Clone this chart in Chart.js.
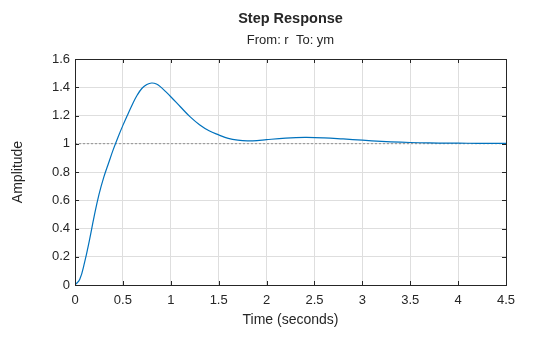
<!DOCTYPE html>
<html>
<head>
<meta charset="utf-8">
<script src="https://cdn.jsdelivr.net/npm/chart.js@4.4.1/dist/chart.umd.min.js"></script>
<style>
  html, body { margin: 0; padding: 0; background: #fff; }
  #wrap { width: 560px; height: 337px; position: relative; }
</style>
</head>
<body>
<div id="wrap"><canvas id="chart"></canvas></div>
<script>
// step response samples (time in s, amplitude)
const times = [0, 0.05, 0.1, 0.15, 0.2, 0.25, 0.3, 0.35, 0.4, 0.45, 0.5, 0.55, 0.6, 0.65, 0.7, 0.75, 0.8, 0.85, 0.9, 0.95, 1.0,
  1.1, 1.2, 1.3, 1.4, 1.5, 1.6, 1.7, 1.8, 1.9, 2.0, 2.2, 2.4, 2.6, 2.8, 3.0, 3.2, 3.4, 3.6, 3.8, 4.0, 4.2, 4.5];
const amplitude = [0, 0.04, 0.16, 0.315, 0.486, 0.64, 0.762, 0.862, 0.96, 1.048, 1.13, 1.206, 1.28, 1.345, 1.393, 1.419, 1.43, 1.423, 1.399, 1.367, 1.333,
  1.262, 1.192, 1.135, 1.092, 1.063, 1.038, 1.025, 1.02, 1.022, 1.029, 1.04, 1.045, 1.042, 1.034, 1.025, 1.017, 1.011, 1.007, 1.005, 1.004, 1.003, 1.002];

const steadyState = 1;
const xTicks = [0, 0.5, 1, 1.5, 2, 2.5, 3, 3.5, 4, 4.5];
const yTicks = [0, 0.2, 0.4, 0.6, 0.8, 1, 1.2, 1.4, 1.6];

const titleText = "Step Response";
const subtitleText = "From: r  To: ym";

const FONT = "'Liberation Sans', Arial, Helvetica, sans-serif";
const INK = "#262626";

// box around the axes + inward tick marks on all four sides, plus the titles
const axesBox = {
  id: "axesBox",
  afterDraw(c) {
    const { ctx, chartArea: a, scales } = c;
    ctx.save();
    ctx.strokeStyle = INK;
    ctx.lineWidth = 1;
    ctx.strokeRect(a.left + 0.5, a.top + 0.5, a.right - a.left, a.bottom - a.top);
    ctx.beginPath();
    xTicks.forEach(v => {
      const x = Math.round(scales.x.getPixelForValue(v)) + 0.5;
      ctx.moveTo(x, a.bottom); ctx.lineTo(x, a.bottom - 4);
      ctx.moveTo(x, a.top); ctx.lineTo(x, a.top + 4);
    });
    yTicks.forEach(v => {
      const y = Math.round(scales.y.getPixelForValue(v)) + 0.5;
      ctx.moveTo(a.left, y); ctx.lineTo(a.left + 4, y);
      ctx.moveTo(a.right, y); ctx.lineTo(a.right - 4, y);
    });
    ctx.stroke();

    const cx = (a.left + a.right) / 2;
    ctx.fillStyle = INK;
    ctx.textAlign = "center";
    ctx.textBaseline = "middle";
    ctx.font = "bold 14.5px " + FONT;
    ctx.fillText(titleText, cx, 19);
    ctx.font = "13px " + FONT;
    ctx.fillText(subtitleText, cx, 40);
    ctx.restore();
  }
};

new Chart(document.getElementById("chart"), {
  type: "line",
  data: {
    datasets: [
      {
        label: "ym",
        data: times.map((t, i) => ({ x: t, y: amplitude[i] })),
        borderColor: "#0072BD",
        borderWidth: 1.2,
        pointRadius: 0,
        tension: 0.4,
        order: 1
      },
      {
        label: "steady state",
        data: [{ x: 0, y: steadyState }, { x: 4.5, y: steadyState }],
        borderColor: "#7a7a7a",
        borderWidth: 0.8,
        borderDash: [2, 2],
        pointRadius: 0,
        order: 2
      }
    ]
  },
  options: {
    responsive: true,
    maintainAspectRatio: false,
    animation: false,
    layout: { padding: { top: 59, right: 54, left: 0, bottom: 0 } },
    plugins: {
      legend: { display: false },
      tooltip: { enabled: false }
    },
    scales: {
      x: {
        type: "linear",
        min: 0,
        max: 4.5,
        afterBuildTicks: s => { s.ticks = xTicks.map(v => ({ value: v })); },
        afterFit: s => { s.height = 52; },
        grid: { color: "#dedede", drawTicks: false },
        border: { display: false },
        ticks: {
          padding: 8,
          color: INK,
          font: { family: FONT, size: 13 },
          maxRotation: 0,
          callback: v => String(v)
        },
        title: {
          display: true,
          text: "Time (seconds)",
          color: INK,
          font: { family: FONT, size: 14 },
          padding: { top: 0, bottom: 8 }
        }
      },
      y: {
        min: 0,
        max: 1.6,
        afterBuildTicks: s => { s.ticks = yTicks.map(v => ({ value: v })); },
        afterFit: s => { s.width = 75; },
        grid: { color: "#dedede", drawTicks: false },
        border: { display: false },
        ticks: {
          padding: 5,
          color: INK,
          font: { family: FONT, size: 13 },
          callback: v => String(v)
        },
        title: {
          display: true,
          text: "Amplitude",
          color: INK,
          font: { family: FONT, size: 14 },
          padding: { top: 10, bottom: 0 }
        }
      }
    }
  },
  plugins: [axesBox]
});
</script>
</body>
</html>
